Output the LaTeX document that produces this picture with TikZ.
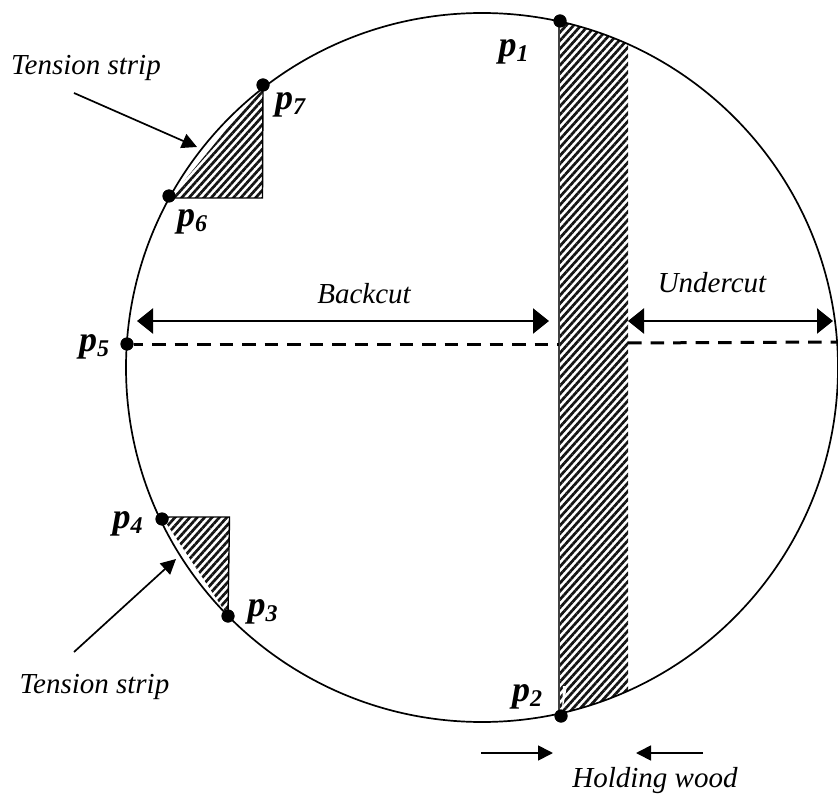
\documentclass[tikz,border=0pt]{standalone}
\usepackage{fontspec}
\setmainfont{Liberation Serif}
\usepackage{xcolor}
\usetikzlibrary{arrows.meta,patterns.meta}
\newcommand{\plab}[1]{{\fontsize{36}{36}\selectfont\bfseries\itshape p\raisebox{-5pt}{\fontsize{24}{24}\selectfont #1}}}
\definecolor{hatchink}{gray}{0.08}
\tikzset{
  cutlbl/.style={font=\fontsize{29}{29}\selectfont\itshape,inner sep=0pt},
  ptlbl/.style={inner sep=0pt},
  dotpt/.style={circle,fill=black,inner sep=0pt,minimum size=13pt},
  hatch/.style={pattern={Lines[angle=48,distance=5.5pt,line width=2.7pt]},pattern color=hatchink},
  span/.style={{Triangle[length=16pt,width=25pt]}-{Triangle[length=16pt,width=25pt]},line width=2.4pt},
  ptr/.style={-{Triangle[length=15pt,width=15pt]},line width=1.7pt},
  cutline/.style={line width=3pt,dash pattern=on 13.5pt off 9pt},
  rim/.style={line width=1.7pt},
  edge/.style={line width=1.4pt},
}

\begin{document}
\begin{tikzpicture}[x=1pt,y=-1pt]
\useasboundingbox (0,0) rectangle (838,794);
% hinge
\begin{scope}
\clip (482,367.5) ellipse (356 and 354.5);
\path[hatch] (559,0) rectangle (628,794);
\draw[line width=1.2pt,black!75] (559,0) -- (559,794);
\end{scope}
\fill[white] (562,712) -- (563,686) -- (567,686) -- cycle;
% strips
\coordinate (c7) at (262.5,198);
\coordinate (s6) at (170,198);
\coordinate (c4) at (229.5,517);
\coordinate (s4) at (162,517);
\node[dotpt] (p1) at (560,21) {};
\node[dotpt] (p2) at (561,716) {};
\node[dotpt] (p3) at (228,616) {};
\node[dotpt] (p4) at (162,519) {};
\node[dotpt] (p5) at (127,344) {};
\node[dotpt] (p6) at (169,196) {};
\node[dotpt] (p7) at (263,85) {};
\path[hatch] (s6) -- (c7) -- (p7.center) -- cycle;
\draw[edge] (s6) -- (c7) -- (p7.center);
\path[hatch] (s4) -- (c4) -- (p3.center) -- cycle;
\draw[edge] (s4) -- (c4) -- (p3.center);
\draw[rim] (482,367.5) ellipse (356 and 354.5);
\node[dotpt] at (p1) {};
\node[dotpt] at (p2) {};
\node[dotpt] at (p3) {};
\node[dotpt] at (p4) {};
\node[dotpt] at (p5) {};
\node[dotpt] at (p6) {};
\node[dotpt] at (p7) {};
% cut line
\coordinate (e5) at (838,342);
\coordinate (h1) at (559,344);
\coordinate (h2) at (628,343);
\draw[cutline,dash phase=4pt] (p5) -- (h1);
\draw[cutline] (h2) -- (e5);
% labels
\node[ptlbl] at (513.5,52) {\plab{1}};
\node[ptlbl] at (527,697) {\plab{2}};
\node[ptlbl] at (262.5,612) {\plab{3}};
\node[ptlbl] at (127.5,524) {\plab{4}};
\node[ptlbl] at (94,347) {\plab{5}};
\node[ptlbl] at (192,222) {\plab{6}};
\node[ptlbl] at (290,105) {\plab{7}};
\node[cutlbl] (back) at (364,294) {Backcut};
\node[cutlbl] (under) at (712,283) {Undercut};
\node[cutlbl] (ts1) at (86,68) {Tension strip};
\node[cutlbl] (ts2) at (94.5,687) {Tension strip};
\node[cutlbl] (hold) at (655,780.5) {Holding wood};
% arrows
\coordinate (b1) at (137,321);
\coordinate (b2) at (549,321);
\coordinate (u1) at (628,321);
\coordinate (u2) at (833,321);
\draw[span] (b1) -- (b2);
\draw[span] (u1) -- (u2);
\coordinate (t1a) at (74,93);
\coordinate (t1b) at (197,147);
\coordinate (t2a) at (74,652);
\coordinate (t2b) at (176,559);
\draw[ptr] (t1a) -- (t1b);
\draw[ptr] (t2a) -- (t2b);
\coordinate (h1a) at (481,753);
\coordinate (h1b) at (553,753);
\coordinate (h2a) at (703,753);
\coordinate (h2b) at (636,753);
\draw[ptr] (h1a) -- (h1b);
\draw[ptr] (h2a) -- (h2b);
\end{tikzpicture}
\end{document}
